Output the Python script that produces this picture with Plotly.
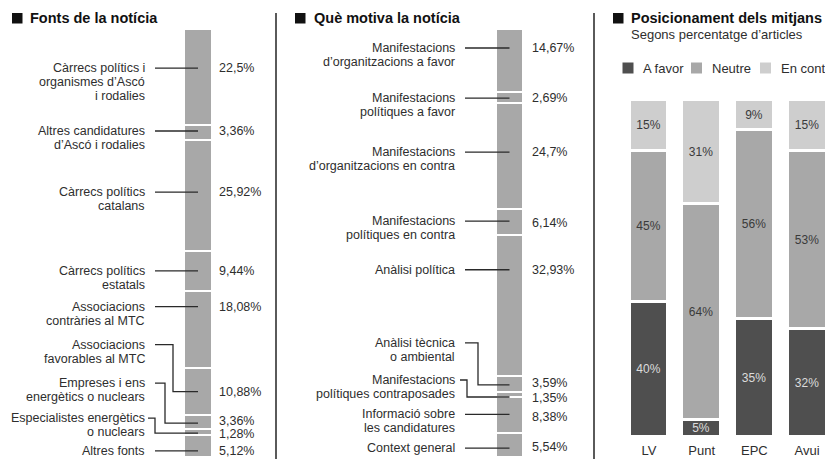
import plotly.graph_objects as go

# ---------------- data ----------------
fonts_title = "Fonts de la notícia"
fonts_categories = [
    "Càrrecs polítics i\norganismes d’Ascó\ni rodalies",
    "Altres candidatures\nd’Ascó i rodalies",
    "Càrrecs polítics\ncatalans",
    "Càrrecs polítics\nestatals",
    "Associacions\ncontràries al MTC",
    "Associacions\nfavorables al MTC",
    "Empreses i ens\nenergètics o nuclears",
    "Especialistes energètics\no nuclears",
    "Altres fonts",
]
fonts_values = [22.5, 3.36, 25.92, 9.44, 18.08, 10.88, 3.36, 1.28, 5.12]

motiu_title = "Què motiva la notícia"
motiu_categories = [
    "Manifestacions\nd’organitzacions a favor",
    "Manifestacions\npolítiques a favor",
    "Manifestacions\nd’organitzacions en contra",
    "Manifestacions\npolítiques en contra",
    "Anàlisi política",
    "Anàlisi tècnica\no ambiental",
    "Manifestacions\npolítiques contraposades",
    "Informació sobre\nles candidatures",
    "Context general",
]
motiu_values = [14.67, 2.69, 24.7, 6.14, 32.93, 3.59, 1.35, 8.38, 5.54]

pos_title = "Posicionament dels mitjans"
pos_subtitle = "Segons percentatge d’articles"
mitjans = ["LV", "Punt", "EPC", "Avui"]
pos_series = ["A favor", "Neutre", "En contra"]
pos_a_favor = [40, 5, 35, 32]
pos_neutre = [45, 64, 56, 53]
pos_en_contra = [15, 31, 9, 15]

# ---------------- styling / layout ----------------
W, H = 825, 459
TOP, BOT = 29, 457            # pixel extent of the single stacked columns
SCALE = (BOT - TOP) / 100.0   # px per percent
FONT = "Arial, Liberation Sans, sans-serif"
TXT = "#2e2e2e"
LEAD = "#2a2a2a"
BAR_GREY = "#a8a8a8"
COL_DARK, COL_MID, COL_LIGHT = "#4f4f4f", "#a8a8a8", "#cecece"
LINE_H = 14

panels = [
    dict(cats=fonts_categories, vals=fonts_values, xa="x", ya="y",
         x0=0, x1=276, bar_x=198, bar_w=26, text_right=147, value_left=217,
         leader_dy=[-9, -1.5, -3, 0, -23, 0, 1, 1, 5],
         label_dy=[0, 0, 0, 0, 0, -47, -40, -15, 0],
         elbow_x=[None, None, None, None, None, 173, 165, 155, None],
         value_dy=[0, 0, 0, 0, 0, 0, -2, 1, 0]),
    dict(cats=motiu_categories, vals=motiu_values, xa="x2", ya="y2",
         x0=276, x1=594, bar_x=509.5, bar_w=25, text_right=457, value_left=530,
         leader_dy=[-12.4, 0.5, -4, -1, -36, 1, 2.5, -1, 3],
         label_dy=[0, 0, 0, 0, 0, -42, -17, 0, 0],
         elbow_x=[None, None, None, None, None, 478, 467, None, None],
         value_dy=[0, 0, 0, 2, 0, -2, 1, 3, -1]),
]

fig = go.Figure()
annotations = []
shapes = []

for p in panels:
    cum = 0.0
    for cat, v, ldy, lbdy, ex, vdy in zip(p["cats"], p["vals"], p["leader_dy"],
                                          p["label_dy"], p["elbow_x"], p["value_dy"]):
        fig.add_trace(go.Bar(
            x=[p["bar_x"]], y=[v], width=[p["bar_w"] + 2.5],
            marker=dict(color=BAR_GREY, line=dict(color="white", width=2.5)),
            xaxis=p["xa"], yaxis=p["ya"], showlegend=False, hoverinfo="skip",
        ))
        center = cum + v / 2.0
        cum += v
        target = center + ldy / SCALE
        label_y = target + lbdy / SCALE
        # category label lines
        for i, line in enumerate(cat.split("\n")):
            annotations.append(dict(
                x=p["text_right"], y=label_y + i * LINE_H / SCALE,
                xref=p["xa"], yref=p["ya"], text=line, showarrow=False,
                xanchor="right", yanchor="middle",
                font=dict(family=FONT, size=12.5, color=TXT)))
        # value label
        annotations.append(dict(
            x=p["value_left"], y=target + vdy / SCALE,
            xref=p["xa"], yref=p["ya"],
            text=f"{v:g}".replace(".", ",") + "%", showarrow=False,
            xanchor="left", yanchor="middle",
            font=dict(family=FONT, size=12.5, color=TXT)))
        # leader line
        if ex is None:
            path = f"M {p['text_right'] + 8},{target} L {p['bar_x']},{target}"
        else:
            sx = min(p["text_right"] + 8, ex - 7)
            path = (f"M {sx},{label_y} L {ex},{label_y} L {ex},{target} "
                    f"L {p['bar_x']},{target}")
        shapes.append(dict(type="path", path=path, xref=p["xa"], yref=p["ya"],
                           line=dict(color=LEAD, width=1.3)))

# panel 3 stacked columns
for name, vals, col, tcol in zip(pos_series, [pos_a_favor, pos_neutre, pos_en_contra],
                                 [COL_DARK, COL_MID, COL_LIGHT],
                                 ["#dcdcdc", "#3a3a3a", "#3a3a3a"]):
    fig.add_trace(go.Bar(
        x=mitjans, y=vals, name=name, width=0.74,
        marker=dict(color=col, line=dict(color="white", width=3)),
        texttemplate="%{y}%", textposition="inside", insidetextanchor="middle",
        textangle=0, constraintext="none",
        insidetextfont=dict(family=FONT, size=12, color=tcol),
        xaxis="x3", yaxis="y3", showlegend=False, hoverinfo="skip",
    ))


def px(xp):
    return xp / W


def py(yp):
    return 1 - yp / H


# titles
for tx, sq, title in [(28, 12, fonts_title), (312, 295, motiu_title), (629, 613, pos_title)]:
    shapes.append(dict(type="rect", xref="paper", yref="paper",
                       x0=px(sq), x1=px(sq + 10.5), y0=py(23.5), y1=py(13),
                       fillcolor="#111", line=dict(width=0)))
    annotations.append(dict(x=px(tx), y=py(18), xref="paper", yref="paper",
                            text=f"<b>{title}</b>", showarrow=False,
                            xanchor="left", yanchor="middle",
                            font=dict(family=FONT, size=14.5, color="#111")))
annotations.append(dict(x=px(629), y=py(34), xref="paper", yref="paper",
                        text=pos_subtitle, showarrow=False, xanchor="left",
                        yanchor="middle", font=dict(family=FONT, size=13, color=TXT)))

# legend (manual)
for name, col, sqx, tx in zip(pos_series, [COL_DARK, COL_MID, COL_LIGHT],
                              [622.5, 691, 760], [641, 710, 779]):
    shapes.append(dict(type="rect", xref="paper", yref="paper",
                       x0=px(sqx), x1=px(sqx + 11), y0=py(73.5), y1=py(62.5),
                       fillcolor=col, line=dict(width=0)))
    annotations.append(dict(x=px(tx), y=py(68), xref="paper", yref="paper",
                            text=name, showarrow=False, xanchor="left",
                            yanchor="middle", font=dict(family=FONT, size=13, color=TXT)))

# separators
for sx in [276, 594]:
    shapes.append(dict(type="line", xref="paper", yref="paper",
                       x0=px(sx), x1=px(sx), y0=0, y1=py(13),
                       line=dict(color="#5a5a5a", width=2)))

hidden = dict(visible=False, showgrid=False, zeroline=False, fixedrange=True)
unit = 52.67
first_c = 649
fig.update_layout(
    width=W, height=H, margin=dict(l=0, r=0, t=0, b=0),
    paper_bgcolor="white", plot_bgcolor="rgba(0,0,0,0)",
    barmode="stack", bargap=0,
    xaxis=dict(domain=[0, px(276)], range=[0, 276], **hidden),
    yaxis=dict(domain=[py(BOT), py(TOP)], range=[100, 0], **hidden),
    xaxis2=dict(domain=[px(276), px(594)], range=[276, 594], **hidden),
    yaxis2=dict(domain=[py(BOT), py(TOP)], range=[100, 0], **hidden),
    xaxis3=dict(domain=[px(594), 1], type="category",
                range=[(594 - first_c) / unit, (825 - first_c) / unit],
                showgrid=False, zeroline=False, showline=False, ticks="",
                ticklabelstandoff=4,
                tickfont=dict(family=FONT, size=13, color=TXT), fixedrange=True,
                anchor="y3"),
    yaxis3=dict(domain=[py(437), py(100)], range=[0, 100], anchor="x3", **hidden),
    annotations=annotations, shapes=shapes,
    font=dict(family=FONT, color=TXT),
)

fig.write_html("out.html", config={"displayModeBar": False},
               post_script="document.body.style.margin='0';document.body.style.overflow='hidden';")
